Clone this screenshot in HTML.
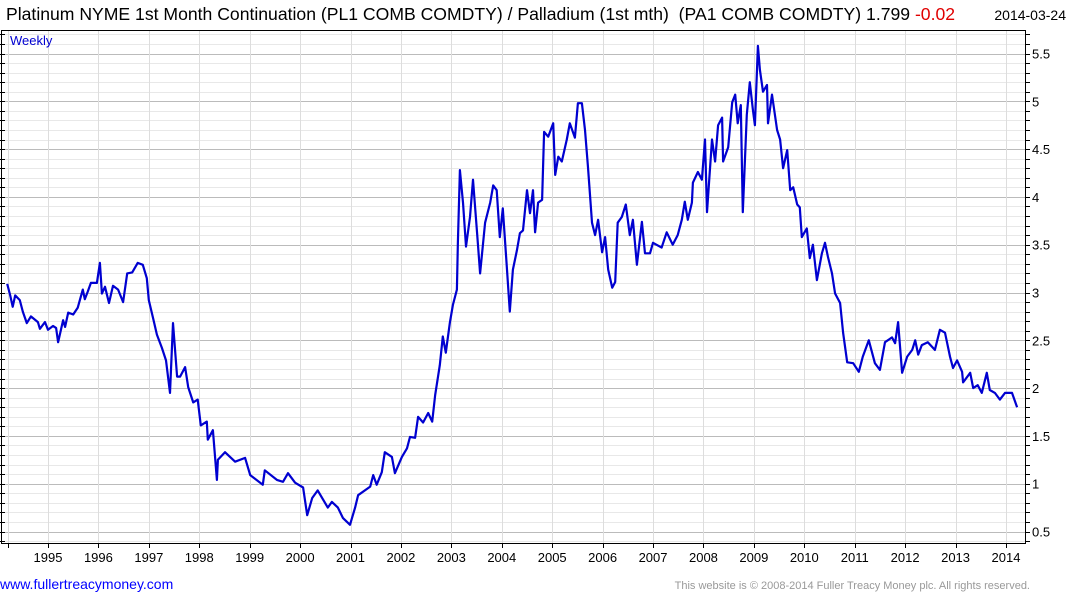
<!DOCTYPE html>
<html><head><meta charset="utf-8"><style>
body{margin:0;background:#fff;width:1075px;height:600px;overflow:hidden;font-family:"Liberation Sans",sans-serif}
svg{display:block}
</style></head><body>
<svg id="chart" width="1075" height="600" xmlns="http://www.w3.org/2000/svg">
<text x="6" y="20" font-size="17.6" fill="#000" xml:space="preserve">Platinum NYME 1st Month Continuation (PL1 COMB COMDTY) / Palladium (1st mth)&#160; (PA1 COMB COMDTY) 1.799 <tspan fill="#e00000">-0.02</tspan></text>
<text x="1066" y="20" font-size="14" text-anchor="end" fill="#000">2014-03-24</text>
<g id="grid"></g>
<g id="axes"></g>
<path id="series" fill="none" stroke="#0000d0" stroke-width="2.2" stroke-linejoin="round"/>
<text x="10" y="45" font-size="13" fill="#0000d0">Weekly</text>
<text x="0" y="589" font-size="14" fill="#0000ff">www.fullertreacymoney.com</text>
<text x="1030" y="589" font-size="11" text-anchor="end" fill="#999">This website is © 2008-2014 Fuller Treacy Money plc. All rights reserved.</text>
</svg>
<script>
const dates=[1994.19,1994.25,1994.30,1994.35,1994.44,1994.50,1994.58,1994.66,1994.80,1994.84,1994.94,1995.00,1995.10,1995.16,1995.20,1995.30,1995.34,1995.40,1995.50,1995.59,1995.69,1995.73,1995.79,1995.85,1995.97,1996.03,1996.07,1996.13,1996.21,1996.29,1996.39,1996.49,1996.57,1996.67,1996.78,1996.88,1996.96,1997.00,1997.08,1997.16,1997.26,1997.34,1997.42,1997.48,1997.56,1997.62,1997.72,1997.78,1997.88,1997.97,1998.03,1998.15,1998.17,1998.27,1998.35,1998.37,1998.51,1998.71,1998.91,1999.01,1999.26,1999.30,1999.54,1999.66,1999.76,1999.90,2000.06,2000.14,2000.24,2000.35,2000.55,2000.63,2000.75,2000.85,2000.99,2001.09,2001.15,2001.39,2001.45,2001.52,2001.62,2001.68,2001.82,2001.88,2002.02,2002.12,2002.18,2002.28,2002.34,2002.44,2002.54,2002.62,2002.68,2002.77,2002.83,2002.89,2002.97,2003.03,2003.11,2003.13,2003.17,2003.23,2003.29,2003.37,2003.43,2003.51,2003.57,2003.67,2003.77,2003.83,2003.90,2003.96,2004.02,2004.10,2004.16,2004.22,2004.30,2004.36,2004.42,2004.50,2004.56,2004.62,2004.66,2004.72,2004.80,2004.84,2004.92,2005.02,2005.06,2005.12,2005.19,2005.29,2005.35,2005.45,2005.51,2005.59,2005.65,2005.71,2005.79,2005.85,2005.91,2005.99,2006.05,2006.11,2006.19,2006.25,2006.30,2006.38,2006.46,2006.54,2006.60,2006.68,2006.78,2006.84,2006.94,2007.00,2007.17,2007.27,2007.39,2007.49,2007.57,2007.63,2007.69,2007.77,2007.79,2007.89,2007.97,2008.03,2008.07,2008.17,2008.23,2008.29,2008.37,2008.39,2008.49,2008.57,2008.63,2008.68,2008.74,2008.78,2008.86,2008.92,2008.98,2009.02,2009.08,2009.12,2009.18,2009.26,2009.28,2009.36,2009.46,2009.52,2009.58,2009.66,2009.72,2009.78,2009.86,2009.91,2009.95,2010.05,2010.11,2010.17,2010.25,2010.35,2010.41,2010.47,2010.55,2010.61,2010.71,2010.77,2010.85,2010.97,2011.08,2011.16,2011.28,2011.40,2011.50,2011.60,2011.74,2011.80,2011.86,2011.94,2012.04,2012.14,2012.20,2012.26,2012.33,2012.45,2012.59,2012.69,2012.79,2012.89,2012.95,2013.03,2013.13,2013.15,2013.29,2013.35,2013.44,2013.52,2013.62,2013.68,2013.78,2013.88,2013.98,2014.12,2014.22];
const values=[3.09,2.97,2.85,2.97,2.92,2.80,2.68,2.75,2.69,2.62,2.69,2.61,2.65,2.63,2.48,2.71,2.64,2.79,2.77,2.84,3.03,2.93,3.01,3.10,3.10,3.31,2.99,3.06,2.89,3.07,3.03,2.90,3.20,3.21,3.31,3.29,3.15,2.92,2.74,2.56,2.42,2.29,1.95,2.68,2.12,2.12,2.22,2.01,1.85,1.88,1.61,1.65,1.46,1.56,1.04,1.25,1.33,1.23,1.27,1.09,0.99,1.14,1.04,1.02,1.11,1.01,0.96,0.67,0.85,0.93,0.75,0.81,0.75,0.64,0.57,0.75,0.88,0.97,1.09,0.99,1.12,1.33,1.28,1.11,1.28,1.37,1.49,1.48,1.70,1.64,1.74,1.65,1.93,2.24,2.54,2.37,2.68,2.87,3.03,3.53,4.28,3.94,3.48,3.79,4.18,3.62,3.20,3.73,3.94,4.12,4.07,3.58,3.88,3.27,2.80,3.24,3.44,3.62,3.65,4.07,3.83,4.07,3.63,3.94,3.97,4.68,4.63,4.77,4.23,4.42,4.37,4.60,4.77,4.62,4.98,4.98,4.70,4.31,3.73,3.60,3.76,3.42,3.58,3.24,3.05,3.11,3.73,3.79,3.92,3.60,3.76,3.29,3.74,3.41,3.41,3.52,3.47,3.63,3.50,3.60,3.76,3.95,3.76,3.94,4.15,4.26,4.18,4.60,3.84,4.60,4.37,4.75,4.83,4.37,4.52,4.99,5.07,4.77,4.96,3.84,4.86,5.20,4.91,4.75,5.58,5.33,5.10,5.17,4.77,5.07,4.70,4.60,4.30,4.49,4.07,4.10,3.92,3.89,3.58,3.67,3.36,3.50,3.13,3.41,3.52,3.37,3.20,2.99,2.89,2.58,2.27,2.26,2.17,2.33,2.50,2.26,2.19,2.48,2.53,2.47,2.69,2.16,2.33,2.40,2.50,2.35,2.45,2.48,2.40,2.61,2.58,2.33,2.21,2.29,2.17,2.06,2.16,2.00,2.03,1.95,2.16,1.98,1.95,1.88,1.95,1.95,1.80];
const yearTicks=[1995,1996,1997,1998,1999,2000,2001,2002,2003,2004,2005,2006,2007,2008,2009,2010,2011,2012,2013,2014];
const valueTicks=[0.5,1,1.5,2,2.5,3,3.5,4,4.5,5,5.5];

const L=1,R=1025,T=30,B=543;
const xS=y=>48+(y-1995)*50.42;
const yS=v=>531.5-(v-0.5)*95.6;
const NS='http://www.w3.org/2000/svg';
const grid=document.getElementById('grid'),axes=document.getElementById('axes');
function mk(tag,attrs,parent){const e=document.createElementNS(NS,tag);for(const k in attrs)e.setAttribute(k,attrs[k]);parent.appendChild(e);return e;}
for(let i=4;i<=57;i++){const v=i/10;const y=Math.round(yS(v))+0.5;if(y<T||y>B)continue;
 const major=(i%5===0);
 const l=mk('line',{x1:L,x2:R,y1:y,y2:y,stroke:major?'#bbb':'#e8e8e8','stroke-width':1},grid);
 
 
 const t=mk('line',{x1:0,x2:5,y1:y,y2:y,stroke:'#000','stroke-width':1},axes);
 
 
 const t2=mk('line',{x1:R,x2:R+5,y1:y,y2:y,stroke:'#000','stroke-width':1},axes);
 
 
}
const vx=[8].concat(yearTicks.map(xS));
vx.forEach((x,i)=>{x=Math.round(x)+0.5;
 const l=mk('line',{x1:x,x2:x,y1:T,y2:B,stroke:'#ddd','stroke-width':1},grid);
 
 
 const t=mk('line',{x1:x,x2:x,y1:B,y2:B+5,stroke:'#000','stroke-width':1},axes);
 
 
});
yearTicks.forEach(yr=>{
 const t=mk('text',{x:xS(yr),y:562,'font-size':13,'text-anchor':'middle',fill:'#000'},axes);
 t.textContent=yr;
 
 
});
valueTicks.forEach(v=>{
 const t=mk('text',{x:1032,y:yS(v)+5,'font-size':13,fill:'#000'},axes);
 t.textContent=v;
 
 
});
const fr=mk('path',{d:`M${L+0.5},${T+0.5}H${R+0.5}V${B+0.5}H${L+0.5}Z`,fill:'none',stroke:'#000','stroke-width':1},axes);


let d='';dates.forEach((yr,i)=>{d+=(i?'L':'M')+xS(yr).toFixed(1)+','+yS(values[i]).toFixed(1);});
document.getElementById('series').setAttribute('d',d);
</script>
</body></html>
